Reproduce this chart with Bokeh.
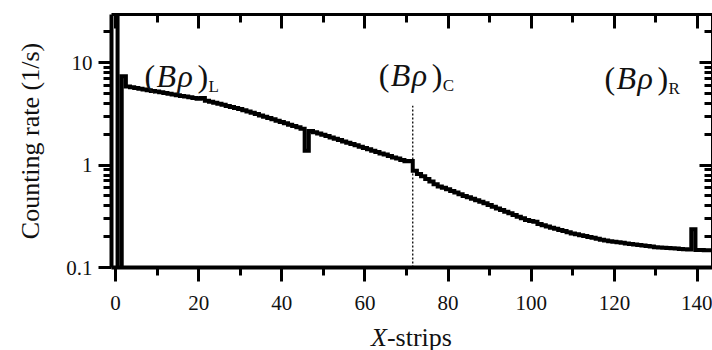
from bokeh.plotting import figure
from bokeh.layouts import column
from bokeh.models import (LinearAxis, LogAxis, FixedTicker, Range1d, Label,
                          CustomJSTickFormatter, Div)
from bokeh.embed import file_html
from bokeh.resources import INLINE

# ---- data ----
strips = list(range(0, 145))
rate = [
    50.0, 0.01, 7.4, 5.85, 5.76, 5.67, 5.58, 5.49, 5.40, 5.31,      # 0-9
    5.23, 5.14, 5.06, 4.98, 4.90, 4.82, 4.74, 4.67, 4.59, 4.52,     # 10-19
    4.45, 4.52, 4.25, 4.15, 4.06, 3.97, 3.88, 3.79, 3.70, 3.62,     # 20-29
    3.54, 3.44, 3.34, 3.24, 3.15, 3.06, 2.97, 2.89, 2.80, 2.72,     # 30-39
    2.64, 2.56, 2.48, 2.41, 2.34, 2.27, 1.38, 2.15, 2.09, 2.04,     # 40-49
    1.98, 1.92, 1.86, 1.81, 1.76, 1.70, 1.65, 1.61, 1.56, 1.51,     # 50-59
    1.47, 1.43, 1.38, 1.34, 1.30, 1.27, 1.23, 1.19, 1.16, 1.12,     # 60-69
    1.09, 1.10, 0.88, 0.82, 0.78, 0.73, 0.69, 0.65, 0.62, 0.60,     # 70-79
    0.58, 0.56, 0.54, 0.52, 0.50, 0.485, 0.47, 0.455, 0.44, 0.424,  # 80-89
    0.408, 0.393, 0.378, 0.364, 0.351, 0.338, 0.325, 0.313, 0.302, 0.291,  # 90-99
    0.285, 0.28, 0.266, 0.259, 0.252, 0.245, 0.239, 0.233, 0.227, 0.221,   # 100-109
    0.215, 0.211, 0.207, 0.203, 0.199, 0.195, 0.191, 0.187, 0.184, 0.180,  # 110-119
    0.178, 0.176, 0.174, 0.172, 0.170, 0.168, 0.166, 0.164, 0.162, 0.160,  # 120-129
    0.158, 0.157, 0.156, 0.155, 0.154, 0.153, 0.152, 0.151, 0.150, 0.236,  # 130-139
    0.148, 0.148, 0.147, 0.147, 0.147,                                      # 140-144
]

x_major = [0, 20, 40, 60, 80, 100, 120, 140]
x_minor = [10, 30, 50, 70, 90, 110, 130]
y_major = [0.1, 1, 10]
y_minor = [0.2, 0.3, 0.4, 0.5, 0.6, 0.7, 0.8, 0.9,
           2, 3, 4, 5, 6, 7, 8, 9, 20, 30]

center_strip = 71.5          # (B rho)_C marker
center_line_top = 3.8

ann_x = [7.0, 63.3, 117.6]
ann_y = [7.47, 7.6, 7.1]
ann_sub = ["L", "C", "R"]

x_label_html = "<i>X</i>-strips"
y_label = "Counting rate (1/s)"

SERIF = "Liberation Serif"
INK = "#111111"

p = figure(width=712, height=319,
           x_range=Range1d(-0.96, 143.6), y_range=Range1d(0.1, 29.6),
           y_axis_type="log", output_backend="svg", toolbar_location=None,
           min_border_left=111, min_border_right=0, min_border_top=14,
           min_border_bottom=52)
p.outline_line_color = None
p.xgrid.visible = False
p.ygrid.visible = False
p.background_fill_color = "white"
p.border_fill_color = "white"

# data curve
p.step(strips, rate, mode="center", line_color="black", line_width=4,
       line_join="miter")

# dotted marker line
p.segment(x0=[center_strip], y0=[0.1], x1=[center_strip], y1=[center_line_top],
          line_color="black", line_dash="2 2", line_width=1.3)

xt = FixedTicker(ticks=x_major, minor_ticks=x_major + x_minor)
yt = FixedTicker(ticks=y_major, minor_ticks=y_minor)
yfmt = CustomJSTickFormatter(code="return String(tick);")
blank = CustomJSTickFormatter(code="return '';")

# bottom axis
xa = p.xaxis[0]
xa.ticker = xt
xa.axis_line_width = 4
xa.major_tick_line_width = 3
xa.minor_tick_line_width = 3
xa.major_tick_out = 14
xa.major_tick_in = 0
xa.minor_tick_out = 8
xa.minor_tick_in = 0
xa.major_label_text_font = SERIF
xa.major_label_text_font_size = "21px"
xa.major_label_text_color = INK
xa.major_label_standoff = 14

# left axis
ya = p.yaxis[0]
ya.ticker = yt
ya.formatter = yfmt
ya.axis_line_width = 4
ya.major_tick_line_width = 3
ya.minor_tick_line_width = 3
ya.major_tick_out = 13
ya.major_tick_in = 0
ya.minor_tick_out = 8
ya.minor_tick_in = 0
ya.major_label_text_font = SERIF
ya.major_label_text_font_size = "21px"
ya.major_label_text_color = INK
ya.major_label_standoff = 6
ya.axis_label = y_label
ya.axis_label_text_font = SERIF
ya.axis_label_text_font_style = "normal"
ya.axis_label_text_font_size = "26px"
ya.axis_label_text_color = INK
ya.axis_label_standoff = 18

# top axis (ticks inward, no labels)
top = LinearAxis(ticker=xt, formatter=blank, axis_line_width=3,
                 major_tick_line_width=3, minor_tick_line_width=3,
                 major_tick_in=14, major_tick_out=0,
                 minor_tick_in=8, minor_tick_out=0,
                 major_label_text_font_size="1px", major_label_standoff=0)
p.add_layout(top, "above")

# right axis (ticks inward, no labels)
right = LogAxis(ticker=yt, formatter=blank, axis_line_width=3,
                major_tick_line_width=3, minor_tick_line_width=3,
                major_tick_in=13, major_tick_out=0,
                minor_tick_in=8, minor_tick_out=0,
                major_label_text_font_size="1px", major_label_standoff=0)
p.add_layout(right, "right")

# (B rho) annotations
for ax, ay, sub in zip(ann_x, ann_y, ann_sub):
    pieces = [("(", "normal", 0, 0, "32px"),
              ("B", "italic", 12, 0, "32px"),
              ("\u03c1", "italic", 33, 0, "32px"),
              (")", "normal", 53, 0, "32px"),
              (sub, "normal", 64, -11, "17px")]
    for t, st, dx, dy, fs in pieces:
        p.add_layout(Label(x=ax, y=ay, x_offset=dx, y_offset=dy, text=t,
                           text_font=SERIF, text_font_style=st,
                           text_font_size=fs, text_color=INK,
                           text_align="left", text_baseline="alphabetic"))

# x axis title with italic X, as HTML text under the plot
xlabel = Div(text=x_label_html, width=712, height=31,
             styles={"font-family": SERIF, "font-size": "26px",
                     "line-height": "28px", "color": INK,
                     "padding-left": "366px", "box-sizing": "border-box",
                     "white-space": "nowrap"})

layout = column(p, xlabel, spacing=0)
open("out.html", "w").write(file_html(layout, INLINE))
